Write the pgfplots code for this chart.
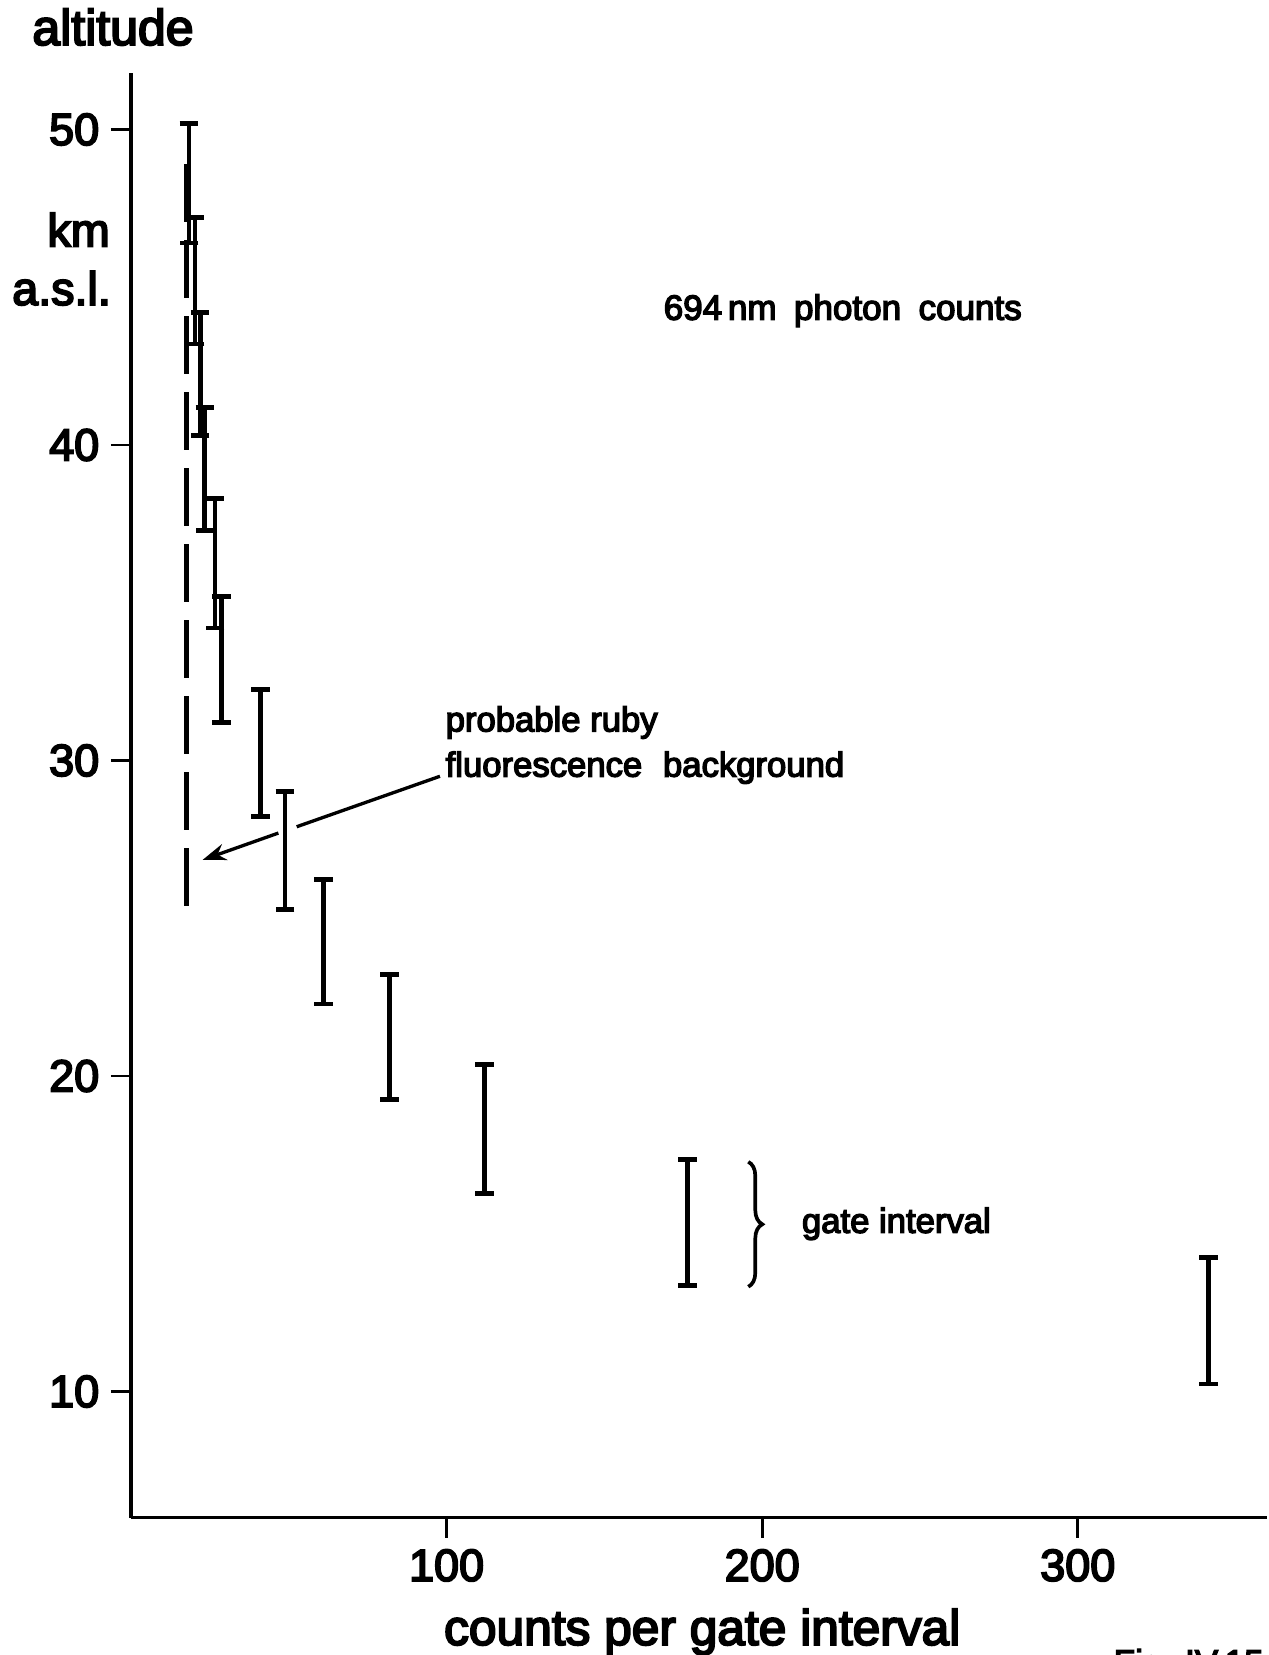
\documentclass[border=0pt]{standalone}
\usepackage{fontspec}
\setmainfont{Liberation Sans}[FakeBold=4]
\usepackage{pgfplots}
\pgfplotsset{compat=1.18}
\usetikzlibrary{arrows.meta,decorations.pathreplacing}
\newcommand\fs[1]{\fontsize{#1}{#1}\selectfont}

\pgfplotstableread{
x     y      e
18.4  48.30  1.90
20.3  45.20  2.00
21.9  42.25  1.95
23.4  39.25  1.95
26.6  36.25  2.05
28.7  33.20  2.00
41.0  30.24  2.02
48.8  27.15  1.86
61.0  24.25  1.97
81.9  21.24  1.99
112.0 18.32  2.04
176.3 15.35  2.00
341.5 12.24  2.00
}\gatedata

\begin{document}
\begin{tikzpicture}
\begin{axis}[
  scale only axis,
  width=340.85pt, height=433.5pt,
  xmin=0, xmax=360, ymin=6, ymax=51.8,
  axis x line=bottom, axis y line=left,
  axis line style={line width=1pt, -},
  xtick={100,200,300}, ytick={10,20,30,40,50},
  tick align=outside,
  major tick length=6pt,
  tick style={line width=0.8pt, black},
  ticklabel style={font=\fs{13.5}},
  /pgf/number format/assume math mode=true,
  clip=false,
]
\addplot[black, draw=none, mark=none,
  error bars/.cd, y dir=both, y explicit, error mark=|,
  error bar style={line width=1.45pt, draw=black, solid},
  error mark options={draw=black, mark size=2.8pt, line width=1.45pt}]
  table[x=x, y=y, y error=e] {\gatedata};

\addplot[black, line width=1.3pt, dash pattern=on 17.4pt off 5.4pt]
  coordinates {(17.6,48.9) (17.6,25.2)};

\draw[line width=1pt] (axis cs:97.9,29.5) -- (axis cs:52.5,27.90);
\draw[line width=1pt, -{Stealth[length=7pt,width=5pt]}] (axis cs:46.7,27.70) -- (axis cs:22.7,26.85);

\draw[line width=1.1pt, decorate, decoration={brace, amplitude=4.2pt}]
  (axis cs:195.6,17.28) -- (axis cs:195.6,13.32);

\node[anchor=base, inner sep=0pt, font=\fs{15}] at (axis cs:-5.7,52.68) {altitude};
\node[anchor=base, inner sep=0pt, font=\fs{14}] at (axis cs:-16.6,46.29) {km};
\node[anchor=base, inner sep=0pt, font=\fs{14}] at (axis cs:-22.0,44.44) {a.s.l.};
\node[anchor=base west, inner sep=0pt, font=\fs{10.5}] at (axis cs:168.6,43.97) {694\,nm\hspace{0.5em}photon\hspace{0.5em}counts};
\node[anchor=base west, inner sep=0pt, font=\fs{10.4}] at (axis cs:99.5,30.92) {probable ruby};
\node[anchor=base west, inner sep=0pt, font=\fs{10.4}] at (axis cs:99.5,29.49) {fluorescence\hspace{0.6em}background};
\node[anchor=base west, inner sep=0pt, font=\fs{10.4}] at (axis cs:212.4,15.03) {gate interval};
\node[anchor=base, inner sep=0pt, font=\fs{14.9}] at (axis cs:181,1.97) {counts per gate interval};
\node[anchor=north west, inner sep=0pt, font=\fs{10.5}] at (axis cs:311.2,1.86) {Fig. IV.15};
\end{axis}
\pgfresetboundingbox
\useasboundingbox (-39.3pt,-41.19pt) rectangle (341.4pt,455.31pt);
\end{tikzpicture}
\end{document}
